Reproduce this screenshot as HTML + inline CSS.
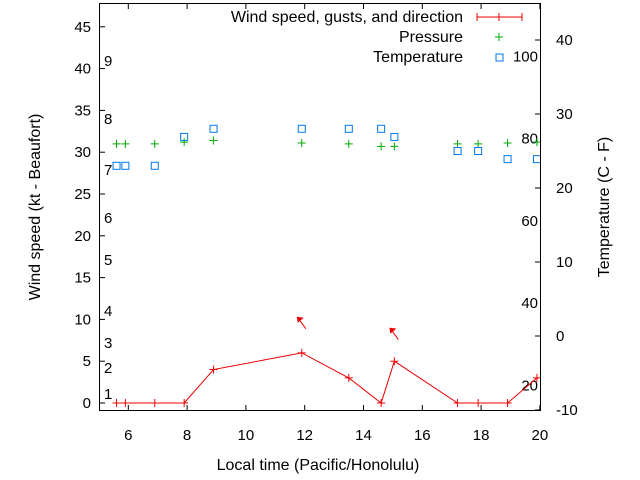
<!DOCTYPE html>
<html><head><meta charset="utf-8"><style>
body{margin:0;background:#fff}
svg{display:block;font-family:"Liberation Sans",sans-serif}
</style></head><body>
<svg id="chart" width="640" height="480">
<rect x="0" y="0" width="640" height="480" fill="#fff"/>
<g id="marks"></g>
<rect x="99.5" y="3.5" width="441" height="407" fill="none" stroke="#000"/>
<text x="318" y="470" font-size="16" text-anchor="middle">Local time (Pacific/Honolulu)</text>
<text transform="translate(40,207) rotate(-90)" font-size="16" text-anchor="middle">Wind speed (kt - Beaufort)</text>
<text transform="translate(609,207) rotate(-90)" font-size="16" text-anchor="middle">Temperature (C - F)</text>
<g font-size="16">
<text x="463" y="22" text-anchor="end">Wind speed, gusts, and direction</text>
<line x1="477" y1="17" x2="522" y2="17" stroke="#e00"/><line x1="477" y1="13" x2="477" y2="21" stroke="#e00"/><line x1="522" y1="13" x2="522" y2="21" stroke="#e00"/><line x1="499" y1="13" x2="499" y2="21" stroke="#e00"/>
<text x="463" y="42" text-anchor="end">Pressure</text>
<path d="M495 37h8M499 33v8" stroke="#0a0"/>
<text x="463" y="62" text-anchor="end">Temperature</text>
<rect x="496" y="54" width="7" height="7" fill="none" stroke="#07e"/>
</g>
</svg>
<script>
const times=[5.6,5.9,6.9,7.9,8.9,11.9,13.5,14.6,15.05,17.2,17.9,18.9,19.9];
const wind=[0,0,0,0,4,6,3,0,5,0,0,0,3];
const pressure=[31,31,31,31.2,31.4,31.1,31,30.7,30.7,31,31,31.1,31.2];
const tempC=[23,23,23,26.9,28,28,28,28,26.9,25,25,23.9,23.9];
const arrowTimes=[11.9,15.05];
const arrowVals=[10.2,8.9];
const xTicks=[6,8,10,12,14,16,18,20];
const yTicks=[0,5,10,15,20,25,30,35,40,45];
const y2Ticks=[-10,0,10,20,30,40];
const fLabels=[20,40,60,80,100];
const bLabels=[[1,394],[2,368],[3,343],[4,311],[5,260],[6,218],[7,170],[8,119],[9,61]];
const X=t=>128.3+(t-6)*29.4;
const Y=v=>403-v*8.36;
const Y2=c=>410-(c+10)*7.4;
const ns="http://www.w3.org/2000/svg",g=document.getElementById('marks');
function mk(tag,at,txt){const e=document.createElementNS(ns,tag);for(const k in at)e.setAttribute(k,at[k]);if(txt!==undefined)e.textContent=txt;g.appendChild(e);return e;}
xTicks.forEach(t=>{
const l=mk('path',{d:`M${X(t)} 411v-6M${X(t)} 3v6`,stroke:'#000'});


const tx=mk('text',{x:X(t),y:440,'font-size':15,'text-anchor':'middle'},t);

});
yTicks.forEach(v=>{
const l=mk('path',{d:`M99 ${Y(v)}h6`,stroke:'#000'});


const tx=mk('text',{x:91,y:Y(v)+5,'font-size':15,'text-anchor':'end'},v);

});
y2Ticks.forEach(c=>{
const l=mk('path',{d:`M541 ${Y2(c)}h-6`,stroke:'#000'});


const tx=mk('text',{x:556,y:Y2(c)+5,'font-size':15},c);

});
fLabels.forEach(f=>{const c=(f-32)*5/9;
const tx=mk('text',{x:538,y:Y2(c)+5,'font-size':15,'text-anchor':'end'},f);

});
bLabels.forEach(b=>{
const tx=mk('text',{x:104,y:b[1]+5,'font-size':15},b[0]);

});
const ln=mk('polyline',{points:times.map((t,i)=>X(t)+','+Y(wind[i])).join(' '),fill:'none',stroke:'#e00'});


times.forEach((t,i)=>{
const p=mk('path',{d:`M${X(t)-4} ${Y(wind[i])}h8M${X(t)} ${Y(wind[i])-4}v8`,stroke:'#e00'});


const q=mk('path',{d:`M${X(t)-4} ${Y(pressure[i])}h8M${X(t)} ${Y(pressure[i])-4}v8`,stroke:'#0a0'});


const s=mk('rect',{x:X(t)-3.5,y:Y2(tempC[i])-3.5,width:7,height:7,fill:'none',stroke:'#07e'});

});
arrowTimes.forEach((t,i)=>{const x=X(t)-4,y=Y(arrowVals[i]);
const a=mk('path',{d:`M${x+8} ${y+11}L${x} ${y}`,stroke:'#e00'});


const h=mk('path',{d:`M${x-1} ${y-1}l7 1l-6 5z`,fill:'#e00'});

});
</script>
</body></html>
